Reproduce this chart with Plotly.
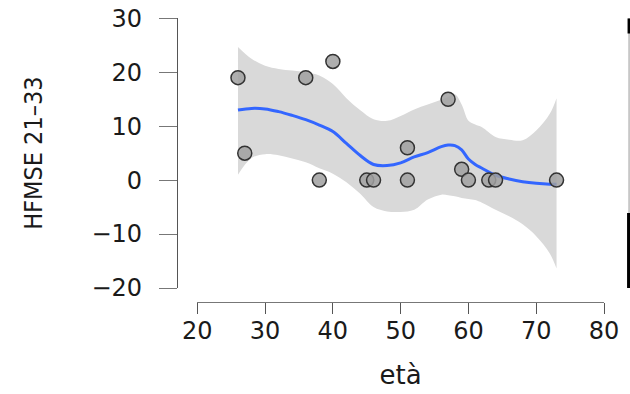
import plotly.graph_objects as go

# Observed data: age (età) vs HFMSE score change
eta = [26, 27, 36, 38, 40, 45, 46, 51, 51, 57, 59, 60, 63, 64, 73]
hfmse = [19, 5, 19, 0, 22, 0, 0, 6, 0, 15, 2, 0, 0, 0, 0]

# Smoothed trend with its confidence band
fit_x = [26, 28, 30, 32, 34, 36, 38, 40, 42, 44, 46, 48, 50, 52, 54, 56, 57, 58,
         59, 60, 61, 62, 64, 66, 68, 70, 72, 73]
fit_y = [13.0, 13.3, 13.2, 12.7, 12.0, 11.2, 10.2, 9.0, 6.8, 4.6, 2.9, 2.7, 3.2, 4.3,
         5.1, 6.2, 6.5, 6.4, 5.6, 3.9, 2.9, 2.2, 0.9, 0.2, -0.3, -0.6, -0.75, -0.75]
fit_hi = [24.7, 22.5, 21.2, 20.6, 20.3, 20.0, 19.4, 17.8, 15.2, 13.0, 11.3, 11.0, 11.9,
          13.1, 14.0, 14.9, 15.4, 15.9, 14.0, 11.0, 10.3, 9.8, 8.0, 7.5, 7.4, 9.2, 12.3, 15.2]
fit_lo = [1.0, 4.1, 4.8, 4.6, 4.0, 3.3, 2.2, 1.2, -0.4, -2.5, -5.0, -5.8, -5.9, -5.5,
          -3.6, -2.7, -2.8, -3.0, -3.3, -3.5, -3.7, -4.2, -5.5, -6.7, -8.2, -10.4, -13.6, -16.4]

x_ticks = [20, 30, 40, 50, 60, 70, 80]
y_ticks = [-20, -10, 0, 10, 20, 30]

W, H = 630, 394
tick_font = dict(family="DejaVu Sans", size=24, color="#1a1a1a")
axis_col = "#555555"

fig = go.Figure()

# confidence band
fig.add_trace(go.Scatter(x=fit_x, y=fit_lo, mode="lines", line=dict(width=0, shape="spline"),
                         hoverinfo="skip", showlegend=False))
fig.add_trace(go.Scatter(x=fit_x, y=fit_hi, mode="lines", line=dict(width=0, shape="spline"),
                         fill="tonexty", fillcolor="#d9d9d9", hoverinfo="skip", showlegend=False))
# smoothed line
fig.add_trace(go.Scatter(x=fit_x, y=fit_y, mode="lines",
                         line=dict(color="#3366ff", width=3, shape="spline"), showlegend=False))
# observations
fig.add_trace(go.Scatter(x=eta, y=hfmse, mode="markers", showlegend=False,
                         marker=dict(size=14, color="rgba(160,160,160,0.85)",
                                     line=dict(color="#333333", width=1.5))))

# thin fragment of the neighbouring panel at the right edge
fig.add_shape(type="line", xref="paper", yref="y", x0=0.9985, x1=0.9985, y0=30, y1=-20,
              line=dict(color="#999999", width=1))
fig.add_shape(type="line", xref="paper", yref="y", x0=0.9985, x1=0.9985, y0=30, y1=27.2,
              line=dict(color="#000000", width=3))
fig.add_shape(type="line", xref="paper", yref="y", x0=0.9985, x1=0.9985, y0=-6.1, y1=-20,
              line=dict(color="#000000", width=4))

fig.update_layout(
    width=W, height=H,
    margin=dict(l=0, r=0, t=0, b=0),
    paper_bgcolor="white", plot_bgcolor="white",
    xaxis=dict(
        range=[20, 80], domain=[197.3 / W, 604 / W],
        anchor="free", position=1 - 301.7 / H,
        tickvals=x_ticks, ticks="outside", ticklen=11, tickwidth=1.3, tickcolor=axis_col,
        showline=True, linecolor="#777777", linewidth=1.3,
        showgrid=False, zeroline=False, tickfont=tick_font, ticklabelstandoff=-4,
        title=dict(text="età", font=dict(family="DejaVu Sans", size=26, color="#1a1a1a"),
                   standoff=22),
        automargin=False,
    ),
    yaxis=dict(
        range=[-20, 30], domain=[1 - 288 / H, 1 - 18.3 / H],
        anchor="free", position=177 / W,
        tickvals=y_ticks, ticks="outside", ticklen=18, tickwidth=1.3, tickcolor="#777777",
        showline=True, linecolor=axis_col, linewidth=1.3,
        showgrid=False, zeroline=False, tickfont=tick_font, ticklabelstandoff=12,
        title=dict(text="HFMSE 21–33",
                   font=dict(family="Liberation Sans Narrow, DejaVu Sans Condensed, Liberation Sans",
                             size=25, color="#1a1a1a"),
                   standoff=40),
        automargin=False,
    ),
)

fig.write_html("out.html")
